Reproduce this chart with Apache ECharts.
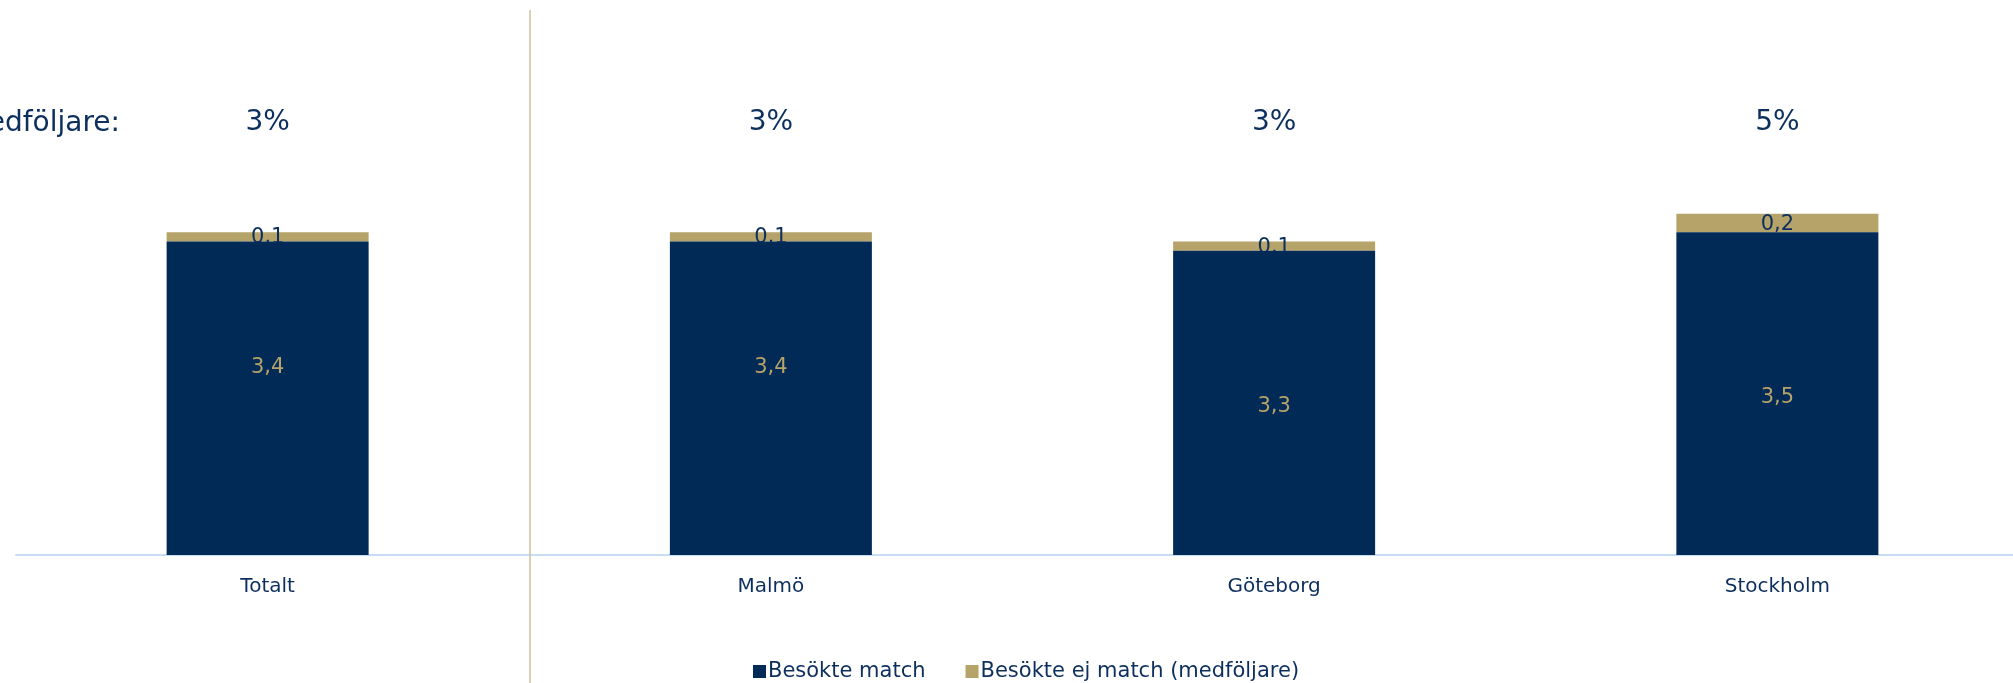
<!DOCTYPE html>
<html>
<head>
<meta charset="utf-8">
<script src="https://cdn.jsdelivr.net/npm/echarts@6/dist/echarts.min.js"></script>
<style>
html,body{margin:0;padding:0;background:#fff;overflow:hidden;}
#c{width:2029px;height:683px;}
</style>
</head>
<body>
<div id="c"></div>
<script>
const categories = ['Totalt', 'Malmö', 'Göteborg', 'Stockholm'];
const visitedMatch = [3.4, 3.4, 3.3, 3.5];
const notVisitedMatch = [0.1, 0.1, 0.1, 0.2];
const companionShare = ['3%', '3%', '3%', '5%'];
const seriesNames = ['Besökte match', 'Besökte ej match (medföljare)'];

const NAVY = '#012a56';
const GOLD = '#b5a36a';
const TEXT = '#0c2f5e';
const FONT = 'DejaVu Sans';
const fmt = v => String(v.value).replace('.', ',');
// label vertical nudges (style only)
const darkLabelNudge = [-31, -31, 4, 4];

const chart = echarts.init(document.getElementById('c'));
chart.setOption({
  animation: false,
  textStyle: { fontFamily: FONT },
  grid: { left: 16, right: 0, top: 94, bottom: 128, containLabel: false },
  legend: {
    left: 748, top: 656,
    itemWidth: 13, itemHeight: 13, itemGap: 40,
    icon: 'rect',
    textStyle: { color: TEXT, fontSize: 21, fontFamily: FONT, padding: [0, 0, 0, -3] },
    data: seriesNames
  },
  xAxis: [{
    type: 'category',
    data: categories,
    axisLine: { show: true, lineStyle: { color: '#c6ddf3', width: 2 } },
    axisTick: { show: false },
    axisLabel: { color: TEXT, fontSize: 20, margin: 22, fontFamily: FONT }
  }, {
    type: 'category',
    position: 'top',
    data: companionShare,
    axisLine: { show: false },
    axisTick: { show: false },
    axisLabel: { inside: true, color: TEXT, fontSize: 28, margin: 15, fontFamily: FONT }
  }],
  yAxis: {
    type: 'value', min: 0, max: 5, show: false,
    splitLine: { show: false }
  },
  series: [{
    name: seriesNames[0],
    type: 'bar',
    stack: 'a',
    zlevel: 1,
    barWidth: 202,
    itemStyle: { color: NAVY },
    data: visitedMatch.map((v, i) => ({
      value: v,
      label: { offset: [0, darkLabelNudge[i]] }
    })),
    label: {
      show: true, position: 'inside', color: GOLD, fontSize: 21,
      fontFamily: FONT, formatter: fmt
    }
  }, {
    name: seriesNames[1],
    type: 'bar',
    stack: 'a',
    barWidth: 202,
    itemStyle: { color: GOLD },
    data: notVisitedMatch,
    label: {
      show: true, position: 'inside', color: TEXT, fontSize: 21,
      fontFamily: FONT, formatter: fmt, offset: [0, 1]
    }
  }],
  graphic: [{
    type: 'line',
    shape: { x1: 530, y1: 10, x2: 530, y2: 683 },
    style: { stroke: '#cbc29e', lineWidth: 1.5 },
    z: 1
  }, {
    type: 'text',
    x: 120, y: 124,
    style: {
      text: 'Andel medföljare:', fill: TEXT, fontSize: 28, fontFamily: FONT,
      align: 'right', verticalAlign: 'middle'
    }
  }]
});
</script>
</body>
</html>
